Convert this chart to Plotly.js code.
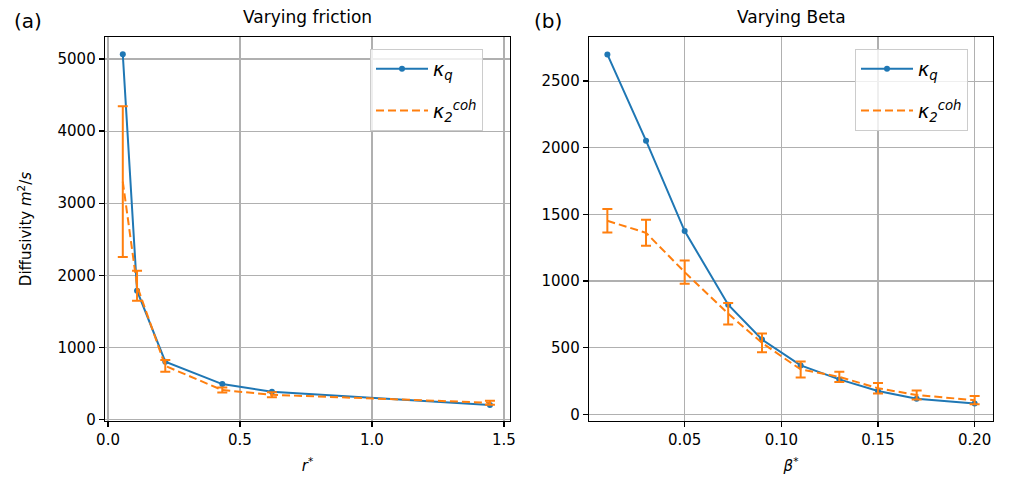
<!DOCTYPE html>
<html>
<head>
<meta charset="utf-8">
<script src="https://cdn.plot.ly/plotly-3.0.1.min.js"></script>
<style>html,body{margin:0;padding:0;background:#fff;}#chart{width:1010px;height:484px;}</style>
</head>
<body>
<div id="chart"></div>
<script>
// Panel (a): varying friction
const frictionR = [0.056, 0.110, 0.217, 0.433, 0.621, 1.447];
const frictionKq = [5065, 1787, 802, 492, 386, 201];
const frictionKcoh = [3300, 1856, 744, 409, 343, 233];
const frictionKcohErr = [1045, 208, 81, 35, 35, 28];

// Panel (b): varying beta
const betaVals = [0.01, 0.03, 0.05, 0.0725, 0.09, 0.11, 0.13, 0.15, 0.17, 0.20];
const betaKq = [2700, 2053, 1375, 823, 561, 367, 262, 175, 117, 82];
const betaKcoh = [1452, 1362, 1067, 755, 536, 337, 281, 196, 145, 106];
const betaKcohErr = [88, 97, 87, 81, 70, 60, 39, 39, 33, 31];

const leftTicks = [0, 0.5, 1.0, 1.5];
const leftTickText = ['0.0', '0.5', '1.0', '1.5'];
const rightTicks = [0.05, 0.10, 0.15, 0.20];
const rightTickText = ['0.05', '0.10', '0.15', '0.20'];

const BLUE = '#1f77b4', ORANGE = '#ff7f0e';
const FONT = 'DejaVu Sans, sans-serif';
const nameKq = '<i>κ<sub>q</sub></i>';
const nameKcoh = '<i>κ<sub>2</sub><sup>coh</sup></i>';

const traces = [
  {x: frictionR, y: frictionKq, type: 'scatter', mode: 'lines+markers', name: nameKq,
   line: {color: BLUE, width: 2}, marker: {color: BLUE, size: 6}, xaxis: 'x', yaxis: 'y',
   legend: 'legend', legendgroup: 'a1'},
  {x: frictionR, y: frictionKcoh, type: 'scatter', mode: 'lines', name: nameKcoh,
   line: {color: ORANGE, width: 2, dash: '8px,4px'},
   error_y: {type: 'data', array: frictionKcohErr, visible: true, color: ORANGE, thickness: 2, width: 5},
   xaxis: 'x', yaxis: 'y', legend: 'legend', legendgroup: 'a2'},
  {x: betaVals, y: betaKq, type: 'scatter', mode: 'lines+markers', name: nameKq,
   line: {color: BLUE, width: 2}, marker: {color: BLUE, size: 6}, xaxis: 'x2', yaxis: 'y2',
   legend: 'legend2', legendgroup: 'b1'},
  {x: betaVals, y: betaKcoh, type: 'scatter', mode: 'lines', name: nameKcoh,
   line: {color: ORANGE, width: 2, dash: '8px,4px'},
   error_y: {type: 'data', array: betaKcohErr, visible: true, color: ORANGE, thickness: 2, width: 5},
   xaxis: 'x2', yaxis: 'y2', legend: 'legend2', legendgroup: 'b2'}
];

const axisCommon = {
  showline: true, mirror: true, linecolor: '#000', linewidth: 1.3,
  ticks: 'outside', ticklen: 5, tickwidth: 1.3, tickcolor: '#000',
  showgrid: true, gridcolor: '#b0b0b0', gridwidth: 1.2, zeroline: false,
  tickfont: {family: FONT, size: 15, color: '#000'}
};

const legendCommon = {
  bgcolor: 'rgba(255,255,255,0.8)', bordercolor: '#cccccc', borderwidth: 1,
  font: {family: FONT, size: 19, color: '#000'}, xanchor: 'left', yanchor: 'top',
  traceorder: 'grouped', tracegroupgap: 14, itemwidth: 52
};

const layout = {
  width: 1010, height: 484,
  margin: {l: 0, r: 0, t: 0, b: 0},
  paper_bgcolor: '#fff', plot_bgcolor: '#fff',
  font: {family: FONT, color: '#000'},
  xaxis: Object.assign({}, axisCommon, {domain: [105/1010, 510/1010], range: [-0.0114, 1.523],
    tickvals: leftTicks, ticktext: leftTickText,
    title: {text: '<i>r</i><sup>*</sup>', font: {family: FONT, size: 15}, standoff: 12}}),
  yaxis: Object.assign({}, axisCommon, {domain: [63/484, 447/484], range: [-20, 5305],
    tickvals: [0, 1000, 2000, 3000, 4000, 5000],
    title: {text: 'Diffusivity <i>m</i><sup>2</sup>/<i>s</i>', font: {family: FONT, size: 15}, standoff: 22}}),
  xaxis2: Object.assign({}, axisCommon, {domain: [589/1010, 993/1010], range: [0.0005, 0.2095], anchor: 'y2',
    tickvals: rightTicks, ticktext: rightTickText,
    title: {text: '<i>β</i><sup>*</sup>', font: {family: FONT, size: 15}, standoff: 12}}),
  yaxis2: Object.assign({}, axisCommon, {domain: [63/484, 447/484], range: [-50, 2831], anchor: 'x2',
    tickvals: [0, 500, 1000, 1500, 2000, 2500]}),
  legend: Object.assign({}, legendCommon, {x: 370/1010, y: 435/484}),
  legend2: Object.assign({}, legendCommon, {x: 855/1010, y: 435/484}),
  annotations: [
    {text: 'Varying friction', xref: 'paper', yref: 'paper', x: 307.5/1010, y: 467/484,
     xanchor: 'center', yanchor: 'middle', showarrow: false, font: {family: FONT, size: 17}},
    {text: 'Varying Beta', xref: 'paper', yref: 'paper', x: 791/1010, y: 467/484,
     xanchor: 'center', yanchor: 'middle', showarrow: false, font: {family: FONT, size: 17}},
    {text: '(a)', xref: 'paper', yref: 'paper', x: 28/1010, y: 463/484,
     xanchor: 'center', yanchor: 'middle', showarrow: false, font: {family: FONT, size: 20}},
    {text: '(b)', xref: 'paper', yref: 'paper', x: 548/1010, y: 463/484,
     xanchor: 'center', yanchor: 'middle', showarrow: false, font: {family: FONT, size: 20}}
  ]
};

Plotly.newPlot('chart', traces, layout, {displayModeBar: false, staticPlot: true});
</script>
</body>
</html>
